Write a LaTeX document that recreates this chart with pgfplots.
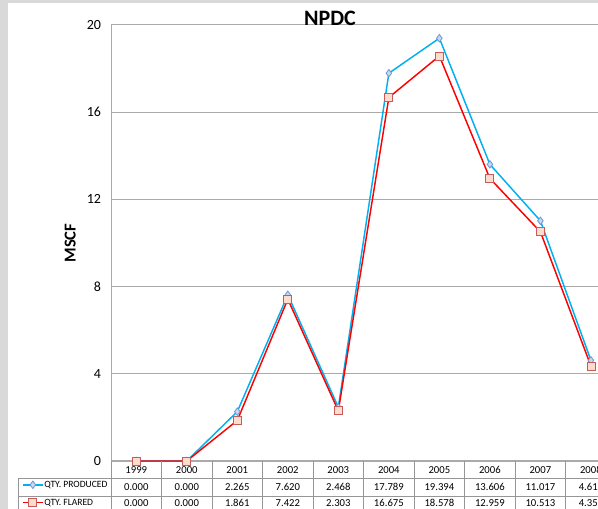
\documentclass[border=0pt]{standalone}
\usepackage{pgfplots}
\usepackage{pgfplotstable}
\pgfplotsset{compat=1.18}
\usepackage{fontspec}
\setmainfont{Carlito}

\definecolor{prodline}{RGB}{0,176,240}
\definecolor{prodfill}{RGB}{198,217,241}
\definecolor{prodedge}{RGB}{110,150,210}
\definecolor{flareline}{RGB}{255,0,0}
\definecolor{flarefill}{RGB}{252,220,205}
\definecolor{flareedge}{RGB}{200,90,90}
\definecolor{gridgray}{RGB}{170,170,170}
\definecolor{tabgray}{RGB}{150,150,150}
\definecolor{frame}{RGB}{217,217,217}

\pgfplotstableread{
year prod flared
1999 0.000 0.000
2000 0.000 0.000
2001 2.265 1.861
2002 7.620 7.422
2003 2.468 2.303
2004 17.789 16.675
2005 19.394 18.578
2006 13.606 12.959
2007 11.017 10.513
2008 4.615 4.353
}\npdc

\begin{document}
\begin{tikzpicture}
% page is 598 x 509 px, 1px = 0.75pt; everything outside is cut off
\clip (0,0) rectangle (448.5pt,381.75pt);
\begin{scope}[x=0.75pt,y=0.75pt]
\fill[frame] (0,0) rectangle (598,509);
\fill[white] (8,0) rectangle (598,506);
\end{scope}

\begin{axis}[
  at={(83.25pt,36pt)}, anchor=south west,
  scale only axis, width=365.25pt, height=327pt,
  xmin=1998.5, xmax=2008.14,
  ymin=0, ymax=20,
  ytick={0,4,...,20},
  xtick={1999,...,2008},
  clip=false,
  axis x line*=bottom, axis y line*=left,
  axis line style={gridgray, -},
  major tick length=0pt,
  ymajorgrids, grid style={gridgray, line width=0.75pt},
  /pgf/number format/assume math mode=true,
  /pgf/number format/1000 sep={},
  yticklabel style={font=\fontsize{10.5}{12}\selectfont, xshift=-4pt},
  xticklabel style={font=\fontsize{8}{9}\selectfont, anchor=center, yshift=-6.75pt},
  ylabel={\textbf{MSCF}},
  ylabel style={font=\fontsize{12.5}{14}\selectfont, at={(axis description cs:-0.084,0.5)}, anchor=center},
  legend cell align=left,
  legend style={draw=none, fill=none, font=\fontsize{7.2}{9}\selectfont,
    at={(axis description cs:-0.183,-0.041)}, anchor=north west,
    inner sep=0pt, row sep=4.75pt,
    nodes={inner sep=0.5pt, text height=6pt, text depth=1.5pt}},
  legend image code/.code={\draw[mark repeat=2, mark phase=2] plot coordinates {(0pt,0pt) (7.5pt,0pt) (15pt,0pt)};},
]
\addplot[prodline, line width=1.1pt, mark=diamond*, mark size=2.8pt,
  mark options={fill=prodfill, draw=prodedge, line width=0.6pt}]
  table[x=year, y=prod] {\npdc};
\addlegendentry{QTY. PRODUCED}
\addplot[flareline, line width=1.1pt, mark=square*, mark size=3pt,
  mark options={fill=flarefill, draw=flareedge, line width=0.6pt}]
  table[x=year, y=flared] {\npdc};
\addlegendentry{QTY. FLARED}
% data table rows
\addplot[draw=none, mark=none, forget plot, nodes near coords, point meta=explicit,
  every node near coord/.append style={anchor=center, font=\fontsize{8}{9}\selectfont,
    /pgf/number format/.cd, fixed, fixed zerofill, precision=3}]
  table[x=year, y expr=-1.193, meta=prod] {\npdc};
\addplot[draw=none, mark=none, forget plot, nodes near coords, point meta=explicit,
  every node near coord/.append style={anchor=center, font=\fontsize{8}{9}\selectfont,
    /pgf/number format/.cd, fixed, fixed zerofill, precision=3}]
  table[x=year, y expr=-1.927, meta=flared] {\npdc};
\end{axis}

\begin{scope}[x=0.75pt,y=0.75pt]
% data table grid
\draw[tabgray, line width=0.6pt] (18,31) -- (598,31);
\draw[tabgray, line width=0.6pt] (18,13) -- (598,13);
\draw[tabgray, line width=0.6pt] (18,31) -- (18,0);
\foreach \k in {0,...,9} {
  \draw[tabgray, line width=0.6pt] (111+\k*50.5,48) -- (111+\k*50.5,0);
}
% title
\node[font=\fontsize{16.5}{18}\selectfont\bfseries] at (330,491) {NPDC};
\end{scope}
\end{tikzpicture}
\end{document}
